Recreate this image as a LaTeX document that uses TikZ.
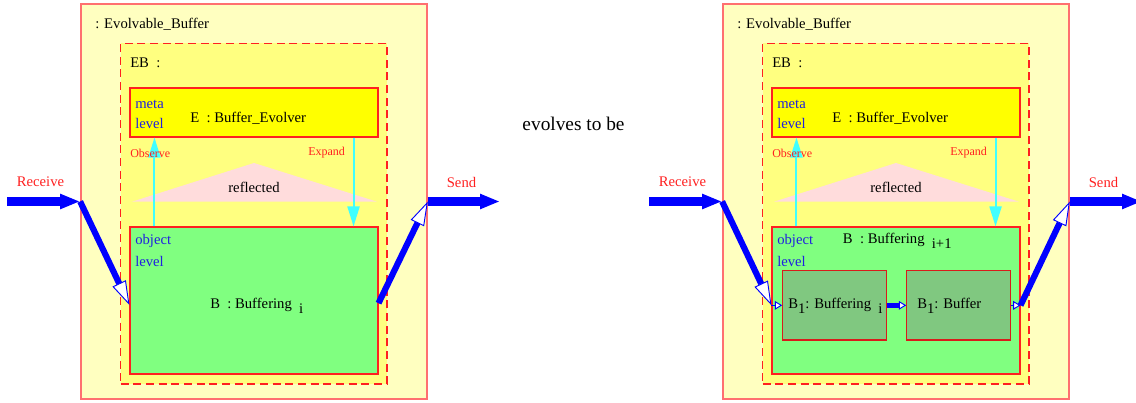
\documentclass[tikz,border=0pt]{standalone}
\usepackage{fontspec}
\setmainfont{Liberation Serif}
\usetikzlibrary{arrows.meta,fit,calc}
\definecolor{outerfill}{HTML}{FFFFC0}
\definecolor{outerdraw}{HTML}{FF7070}
\definecolor{ebfill}{HTML}{FFFF80}
\definecolor{metafill}{HTML}{FFFF00}
\definecolor{objfill}{HTML}{80FF80}
\definecolor{subfill}{HTML}{80C880}
\definecolor{redline}{HTML}{FF2020}
\definecolor{pinktri}{HTML}{FFDCDC}
\definecolor{cyanarr}{HTML}{40FFFF}
\definecolor{bluearr}{HTML}{0000FF}
\definecolor{lvlblue}{HTML}{2020E0}
\definecolor{lblred}{HTML}{FF2020}
\begin{document}
\begin{tikzpicture}[x=0.75pt,y=-0.75pt,
  outerbox/.style={fill=outerfill, draw=outerdraw, line width=1.3pt, inner sep=0pt},
  ebbox/.style={fill=ebfill, draw=redline, dash pattern=on 6pt off 3.5pt, line width=0.8pt, inner sep=0pt},
  metabox/.style={fill=metafill, draw=redline, line width=0.8pt, inner sep=0pt},
  objbox/.style={fill=objfill, draw=redline, line width=0.8pt, inner sep=0pt},
  subbox/.style={fill=subfill, draw=redline!85!black, line width=0.8pt, inner sep=0pt},
  txt/.style={inner sep=0pt, font=\fontsize{11}{13}\selectfont},
  lvl/.style={txt, text=lvlblue},
  port/.style={inner sep=0pt, font=\fontsize{11}{13}\selectfont, text=lblred},
  flow/.style={inner sep=0pt, font=\fontsize{9}{11}\selectfont, text=lblred},
  cyanarrow/.style={draw=cyanarr, line width=1.5pt, -{Triangle[length=15pt, width=9pt]}, fill=cyanarr},
  bigarrow/.style={draw=bluearr, line width=6.3pt, -{Triangle[length=15pt, width=10.5pt, fill=bluearr]}},
  diagarrow/.style={draw=bluearr, line width=4.6pt, -{Triangle[open, fill=white, length=18pt, width=11pt, line width=0.7pt]}},
  midarrow/.style={draw=bluearr, line width=3.6pt, -{Triangle[open, fill=white, length=5.5pt, width=6.5pt, line width=0.7pt]}},
  smallarrow/.style={draw=bluearr, line width=0.7pt, -{Triangle[open, fill=white, length=5.5pt, width=6.5pt, line width=0.7pt]}},
]
\useasboundingbox (0,0) rectangle (1136,403);

% ---------------- left panel ----------------
\node[outerbox, fit={(81,4) (427,399)}] (L-outer) {};
\node[ebbox, fit={(120.7,43.3) (387,384)}] (L-eb) {};
\fill[pinktri] (132,201.7) -- (254,163) -- (377,201.7) -- cycle;
\node[metabox, fit={(130,88) (378,137)}] (L-meta) {};
\node[objbox, fit={(130,227) (378,374)}] (L-obj) {};

\draw[cyanarrow] ([xshift=18.75pt]L-obj.north west) -- ([xshift=18.75pt]L-meta.south west);
\draw[cyanarrow] ([xshift=-18.75pt]L-meta.south east) -- ([xshift=-18.75pt]L-obj.north east);

\node[txt, anchor=west] (L-title) at (95,24) {: Evolvable\_Buffer};
\node[txt, anchor=west] (L-eblbl) at (130,63) {EB\ \ :};
\node[lvl, anchor=west] (L-meta1) at (135,104) {meta};
\node[lvl, anchor=west] (L-meta2) at (135,123) {level};
\node[txt, anchor=west] (L-elbl) at (190,118) {E\ \ : Buffer\_Evolver};
\node[flow, anchor=west] (L-observe) at (130,153) {Observe};
\node[flow, anchor=west] (L-expand) at (308,153) {Expand};
\node[txt] (L-refl) at (254,187) {reflected};
\node[port] (L-receive) at (40.5,182) {Receive};
\node[port] (L-send) at (461.5,182) {Send};
\node[lvl, anchor=west] (L-obj1) at (135,241) {object};
\node[lvl, anchor=west] (L-obj2) at (135,261) {level};
\node[txt, anchor=west] (L-blbl) at (210,306) {B\ \ : Buffering\ \ \raisebox{-4pt}{i}};

\coordinate (L-in) at (7,201.5);
\coordinate (L-out) at (500,201.5);
\draw[bigarrow] (L-in) -- (L-outer.west);
\draw[diagarrow] (L-outer.west) -- ([yshift=-3.4pt]L-obj.west);
\draw[diagarrow] ([yshift=-2pt]L-obj.east) -- (L-outer.east);
\draw[bigarrow] (L-outer.east) -- (L-out);

% ---------------- middle text ----------------
\node[inner sep=0pt, font=\fontsize{14.5}{16}\selectfont] (evolves) at (573.5,124) {evolves to be};

% ---------------- right panel ----------------
\begin{scope}[shift={(642,0)}]
\node[outerbox, fit={(81,4) (427,399)}] (R-outer) {};
\node[ebbox, fit={(120.7,43.3) (387,384)}] (R-eb) {};
\fill[pinktri] (132,201.7) -- (254,163) -- (377,201.7) -- cycle;
\node[metabox, fit={(130,88) (378,137)}] (R-meta) {};
\node[objbox, fit={(130,227) (378,374)}] (R-obj) {};
\node[subbox, fit={(140.7,270.7) (244.7,340)}] (R-b1) {};
\node[subbox, fit={(264.7,270.7) (368.7,340)}] (R-b2) {};

\draw[cyanarrow] ([xshift=18.75pt]R-obj.north west) -- ([xshift=18.75pt]R-meta.south west);
\draw[cyanarrow] ([xshift=-18.75pt]R-meta.south east) -- ([xshift=-18.75pt]R-obj.north east);

\node[txt, anchor=west] (R-title) at (95,24) {: Evolvable\_Buffer};
\node[txt, anchor=west] (R-eblbl) at (130,63) {EB\ \ :};
\node[lvl, anchor=west] (R-meta1) at (135,104) {meta};
\node[lvl, anchor=west] (R-meta2) at (135,123) {level};
\node[txt, anchor=west] (R-elbl) at (190,118) {E\ \ : Buffer\_Evolver};
\node[flow, anchor=west] (R-observe) at (130,153) {Observe};
\node[flow, anchor=west] (R-expand) at (308,153) {Expand};
\node[txt] (R-refl) at (254,187) {reflected};
\node[port] (R-receive) at (40.5,182) {Receive};
\node[port] (R-send) at (461.5,182) {Send};
\node[lvl, anchor=west] (R-obj1) at (135,241) {object};
\node[lvl, anchor=west] (R-obj2) at (135,261) {level};
\node[txt, anchor=west] (R-blbl) at (200.7,241) {B\ \ : Buffering\ \ \raisebox{-4pt}{i+1}};
\node[txt, anchor=west] (R-b1lbl) at (146,306) {B\raisebox{-4pt}{1}: Buffering\ \ \raisebox{-4pt}{i}};
\node[txt, anchor=west] (R-b2lbl) at (275,306) {B\raisebox{-4pt}{1}: Buffer};

\coordinate (R-in) at (7,201.5);
\coordinate (R-out) at (500,201.5);
\coordinate (R-pin) at (R-obj.west |- R-b1.west);
\coordinate (R-pout) at (R-obj.east |- R-b2.east);
\draw[bigarrow] (R-in) -- (R-outer.west);
\draw[diagarrow] (R-outer.west) -- (R-pin);
\draw[smallarrow] (R-pin) -- (R-b1.west);
\draw[midarrow] (R-b1.east) -- (R-b2.west);
\draw[smallarrow] (R-b2.east) -- (R-pout);
\draw[diagarrow] (R-pout) -- (R-outer.east);
\draw[bigarrow] (R-outer.east) -- (R-out);
\end{scope}
\end{tikzpicture}
\end{document}
